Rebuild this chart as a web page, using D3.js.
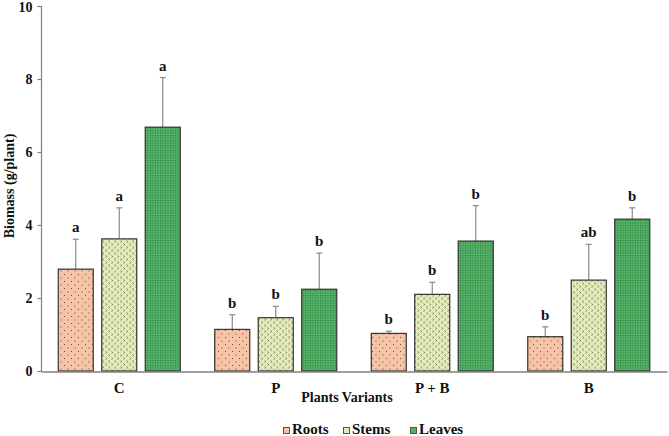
<!DOCTYPE html>
<html><head><meta charset="utf-8">
<script src="https://cdn.jsdelivr.net/npm/d3@7"></script>
<style>body{margin:0;background:#fff}svg{display:block}</style>
</head><body><svg id="c" width="669" height="436"></svg>
<script>
const categories = ["C", "P", "P + B", "B"];
const seriesNames = ["Roots", "Stems", "Leaves"];
const roots  = [2.79, 1.14, 1.03, 0.94];
const stems  = [3.62, 1.46, 2.10, 2.49];
const leaves = [6.68, 2.24, 3.56, 4.16];
const rootsErr  = [0.82, 0.40, 0.06, 0.27];
const stemsErr  = [0.85, 0.31, 0.33, 0.98];
const leavesErr = [1.36, 0.99, 0.97, 0.31];
const rootsLetters  = ["a", "b", "b", "b"];
const stemsLetters  = ["a", "b", "b", "ab"];
const leavesLetters = ["a", "b", "b", "b"];
const yTicks = [0, 2, 4, 6, 8, 10];

const FONT = "'Liberation Serif', 'Times New Roman', Tinos, 'DejaVu Serif', serif";
const svg = d3.select("#c");
const defs = svg.append("defs");
const pR = defs.append("pattern").attr("id","pR").attr("patternUnits","userSpaceOnUse").attr("width",7).attr("height",7);
pR.append("rect").attr("width",7).attr("height",7).attr("fill","#f6c3a6");
pR.append("rect").attr("x",1).attr("y",1).attr("width",1).attr("height",1).attr("fill","#6b5040");
pR.append("rect").attr("x",4.5).attr("y",4.5).attr("width",1).attr("height",1).attr("fill","#6b5040");
const pS = defs.append("pattern").attr("id","pS").attr("patternUnits","userSpaceOnUse").attr("width",6).attr("height",6);
pS.append("rect").attr("width",6).attr("height",6).attr("fill","#e2eab8");
pS.append("path").attr("d","M0.5,0.5 L1.8,1.5 L0.5,2.5").attr("fill","none").attr("stroke","#5a6040").attr("stroke-width",0.7);
pS.append("path").attr("d","M3.5,3.5 L4.8,4.5 L3.5,5.5").attr("fill","none").attr("stroke","#5a6040").attr("stroke-width",0.7);
const pL = defs.append("pattern").attr("id","pL").attr("patternUnits","userSpaceOnUse").attr("width",2.5).attr("height",2.5);
pL.append("rect").attr("width",2.5).attr("height",2.5).attr("fill","#52b265");
pL.append("rect").attr("x",0).attr("y",0).attr("width",1).attr("height",1).attr("fill","#2d6e3a");
const fills = ["url(#pR)","url(#pS)","url(#pL)"];
const legendFills = ["#f6c3a6","#e2eab8","#52b265"];

const x0 = d3.scaleBand().domain(categories).range([41, 667]).paddingInner(0).paddingOuter(0);
const x1 = d3.scaleBand().domain(seriesNames).range([0, x0.bandwidth()]).paddingInner(0.195).paddingOuter(0.3965);
const y = d3.scaleLinear().domain([0, 10]).range([371, 6]);

const data = [roots, stems, leaves];
const errs = [rootsErr, stemsErr, leavesErr];
const letters = [rootsLetters, stemsLetters, leavesLetters];

function styleText(sel, size) {
  sel.attr("font-family", FONT).attr("font-weight", "bold").attr("font-size", size).attr("fill", "#111");
}

seriesNames.forEach((s, si) => {
  const g = svg.append("g");
  categories.forEach((c, ci) => {
    const v = data[si][ci], e = errs[si][ci];
    const bx = x0(c) + x1(s), bw = x1.bandwidth();
    const cx = bx + bw / 2;
    g.append("line").attr("x1", cx).attr("x2", cx).attr("y1", y(v)).attr("y2", y(v + e))
      .attr("stroke", "#8a8a8a").attr("stroke-width", 1.2);
    g.append("line").attr("x1", cx - 3).attr("x2", cx + 3).attr("y1", y(v + e)).attr("y2", y(v + e))
      .attr("stroke", "#8a8a8a").attr("stroke-width", 1.2);
    g.append("rect").attr("x", bx).attr("y", y(v)).attr("width", bw).attr("height", y(0) - y(v))
      .attr("fill", fills[si]).attr("stroke", "#333").attr("stroke-width", 1.2);
    styleText(g.append("text").attr("x", cx).attr("y", y(v + e) - 7).attr("text-anchor", "middle")
      .text(letters[si][ci]), 15);
  });
});

const yAxis = d3.axisLeft(y).tickValues(yTicks).tickSize(4).tickPadding(5).tickFormat(d3.format("d"));
const ya = svg.append("g").attr("transform", "translate(41.5,0)").call(yAxis);
ya.attr("font-family", FONT);
ya.select(".domain").attr("stroke", "#808080").attr("stroke-width", 1.2).attr("d", "M-4,6.5H0V371");
ya.selectAll(".tick line").attr("stroke", "#808080").attr("stroke-width", 1.2);
styleText(ya.selectAll(".tick text"), 14);
ya.selectAll(".tick text").filter(d => d === 10).attr("dy", "0.42em");

const xAxis = d3.axisBottom(x0).tickSize(0).tickPadding(11);
const xa = svg.append("g").attr("transform", "translate(0,371.5)").call(xAxis);
xa.attr("font-family", FONT);
xa.select(".domain").attr("stroke", "#808080").attr("stroke-width", 1.5);
styleText(xa.selectAll(".tick text"), 15);

styleText(svg.append("text").attr("x", 347).attr("y", 402).attr("text-anchor", "middle").text("Plants Variants"), 14);
styleText(svg.append("text").attr("transform", "translate(14,186) rotate(-90)").attr("text-anchor", "middle").text("Biomass (g/plant)"), 14);

const legX = [283, 343, 410];
seriesNames.forEach((s, i) => {
  svg.append("rect").attr("x", legX[i] + 0.5).attr("y", 427.5).attr("width", 6).attr("height", 6)
    .attr("fill", legendFills[i]).attr("stroke", "#555").attr("stroke-width", 1);
  styleText(svg.append("text").attr("x", legX[i] + 9).attr("y", 434).text(s), 15);
});
</script></body></html>
